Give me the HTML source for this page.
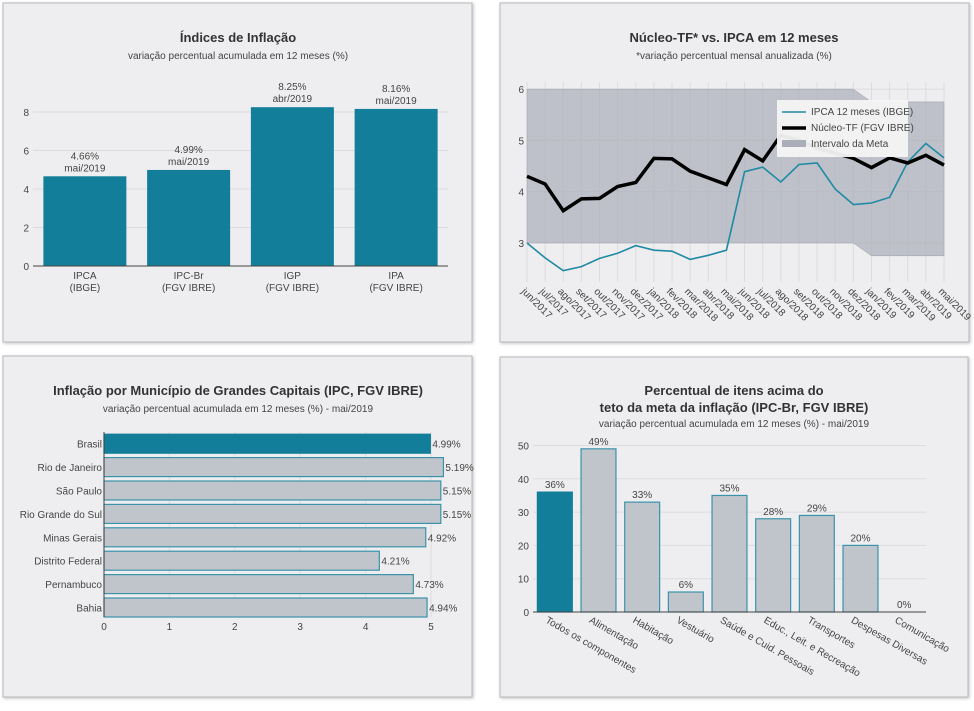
<!DOCTYPE html>
<html><head><meta charset="utf-8"><style>
body{margin:0;background:#fff;width:974px;height:706px;overflow:hidden;font-family:"Liberation Sans",sans-serif}
svg text{font-family:"Liberation Sans",sans-serif;fill:#444}
</style></head><body>
<svg id="s" width="974" height="706" xmlns="http://www.w3.org/2000/svg">
<defs><filter id="sh" x="-5%" y="-5%" width="110%" height="110%"><feDropShadow dx="1" dy="1" stdDeviation="1.5" flood-color="#999" flood-opacity="0.6"/></filter></defs>
<rect x="3" y="3" width="469" height="339" fill="#eeeef0" stroke="#b8b8bc" filter="url(#sh)"/>
<rect x="500" y="3" width="469" height="339" fill="#eeeef0" stroke="#b8b8bc" filter="url(#sh)"/>
<rect x="3" y="356" width="469" height="341" fill="#eeeef0" stroke="#b8b8bc" filter="url(#sh)"/>
<rect x="500" y="357" width="468" height="340" fill="#eeeef0" stroke="#b8b8bc" filter="url(#sh)"/>

<text x="238" y="42" text-anchor="middle" font-size="13" font-weight="bold" style="fill:#333">Índices de Inflação</text>
<text x="238" y="59" text-anchor="middle" font-size="10">variação percentual acumulada em 12 meses (%)</text>
<text x="734" y="42" text-anchor="middle" font-size="13" font-weight="bold" style="fill:#333">Núcleo-TF* vs. IPCA em 12 meses</text>
<text x="734" y="59" text-anchor="middle" font-size="10">*variação percentual mensal anualizada (%)</text>
<text x="238" y="395" text-anchor="middle" font-size="13" font-weight="bold" style="fill:#333">Inflação por Município de Grandes Capitais (IPC, FGV IBRE)</text>
<text x="238" y="412" text-anchor="middle" font-size="10">variação percentual acumulada em 12 meses (%) - mai/2019</text>
<text x="734" y="395" text-anchor="middle" font-size="13" font-weight="bold" style="fill:#333">Percentual de itens acima do</text>
<text x="734" y="412" text-anchor="middle" font-size="13" font-weight="bold" style="fill:#333">teto da meta da inflação (IPC-Br, FGV IBRE)</text>
<text x="734" y="427" text-anchor="middle" font-size="10">variação percentual acumulada em 12 meses (%) - mai/2019</text>
<g id="g1"></g><g id="g2"></g><g id="g3"></g><g id="g4"></g>
</svg>
<script>
// Chart 1
const c1Cats=[["IPCA","(IBGE)"],["IPC-Br","(FGV IBRE)"],["IGP","(FGV IBRE)"],["IPA","(FGV IBRE)"]];
const c1Vals=[4.66,4.99,8.25,8.16];
const c1Dates=["mai/2019","mai/2019","abr/2019","mai/2019"];
const c1Ticks=[0,2,4,6,8];
// Chart 2
const c2Months=["jun/2017","jul/2017","ago/2017","set/2017","out/2017","nov/2017","dez/2017","jan/2018","fev/2018","mar/2018","abr/2018","mai/2018","jun/2018","jul/2018","ago/2018","set/2018","out/2018","nov/2018","dez/2018","jan/2019","fev/2019","mar/2019","abr/2019","mai/2019"];
const c2Ipca=[3.0,2.71,2.46,2.54,2.70,2.80,2.95,2.86,2.84,2.68,2.76,2.86,4.39,4.48,4.19,4.53,4.56,4.05,3.75,3.78,3.89,4.58,4.94,4.66];
const c2Nucleo=[4.3,4.15,3.63,3.86,3.87,4.10,4.18,4.65,4.64,4.40,4.27,4.14,4.82,4.60,5.1,5.0,4.85,4.75,4.65,4.47,4.66,4.56,4.71,4.52];
const c2MetaLow=[3,3,3,3,3,3,3,3,3,3,3,3,3,3,3,3,3,3,3,2.75,2.75,2.75,2.75,2.75];
const c2MetaHigh=[6,6,6,6,6,6,6,6,6,6,6,6,6,6,6,6,6,6,6,5.75,5.75,5.75,5.75,5.75];
const c2Ticks=[3,4,5,6];
// Chart 3
const c3Cats=["Brasil","Rio de Janeiro","São Paulo","Rio Grande do Sul","Minas Gerais","Distrito Federal","Pernambuco","Bahia"];
const c3Vals=[4.99,5.19,5.15,5.15,4.92,4.21,4.73,4.94];
const c3Ticks=[0,1,2,3,4,5];
// Chart 4
const c4Cats=["Todos os componentes","Alimentação","Habitação","Vestuário","Saúde e Cuid. Pessoais","Educ., Leit. e Recreação","Transportes","Despesas Diversas","Comunicação"];
const c4Vals=[36,49,33,6,35,28,29,20,0];
const c4Ticks=[0,10,20,30,40,50];

const NS="http://www.w3.org/2000/svg";
function mk(p,t,a,txt){const e=document.createElementNS(NS,t);for(const k in a)e.setAttribute(k,a[k]);if(txt!==undefined)e.textContent=txt;p.appendChild(e);return e;}
const TEAL="#127e99",GREY="#c0c4cb";

// ---- chart 1
(function(){const g=document.getElementById('g1');
const x0=33,x1=448,y0=266,k=19.25;const y=v=>y0-v*k;const bw=(x1-x0)/c1Cats.length;
c1Ticks.forEach(t=>{if(t>0){const l=mk(g,'line',{x1:x0,x2:x1,y1:y(t),y2:y(t),stroke:'#dcdce0'});}
const tx=mk(g,'text',{x:x0-4,y:y(t)+4,'text-anchor':'end','font-size':10},t);});
c1Vals.forEach((v,i)=>{const cx=x0+bw*(i+.5);
const r=mk(g,'rect',{x:cx-bw*0.4,y:y(v),width:bw*0.8,height:v*k,fill:TEAL});
const a=mk(g,'text',{x:cx,y:y(v)-17,'text-anchor':'middle','font-size':10},v.toFixed(2)+'%');
const b=mk(g,'text',{x:cx,y:y(v)-5,'text-anchor':'middle','font-size':10},c1Dates[i]);
const c=mk(g,'text',{x:cx,y:y0+13,'text-anchor':'middle','font-size':10},c1Cats[i][0]);
const d=mk(g,'text',{x:cx,y:y0+25,'text-anchor':'middle','font-size':10},c1Cats[i][1]);});
const ax=mk(g,'line',{x1:x0,x2:x1,y1:y0,y2:y0,stroke:'#444'});})();

// ---- chart 2
(function(){const g=document.getElementById('g2');
const x0=527,x1=944,n=c2Months.length,dx=(x1-x0)/(n-1);const X=i=>x0+i*dx;const Y=v=>243-(v-3)*51.3;
for(let i=0;i<n;i++){const l=mk(g,'line',{x1:X(i),x2:X(i),y1:82,y2:282,stroke:'#dcdce0'});}
c2Ticks.forEach(t=>{const l=mk(g,'line',{x1:x0,x2:x1,y1:Y(t),y2:Y(t),stroke:'#dcdce0'});
const tx=mk(g,'text',{x:x0-3,y:Y(t)+4,'text-anchor':'end','font-size':10},t);});
let d='';c2MetaHigh.forEach((v,i)=>d+=(i?'L':'M')+X(i)+','+Y(v));for(let i=n-1;i>=0;i--)d+='L'+X(i)+','+Y(c2MetaLow[i]);
const band=mk(g,'path',{d:d+'Z',fill:'#a9aeb8','fill-opacity':0.7,stroke:'#9aa0aa','stroke-width':0.5});
const p1=mk(g,'polyline',{points:c2Ipca.map((v,i)=>X(i)+','+Y(v)).join(' '),fill:'none',stroke:'#1f8aa3','stroke-width':1.6});
const p2=mk(g,'polyline',{points:c2Nucleo.map((v,i)=>X(i)+','+Y(v)).join(' '),fill:'none',stroke:'#000','stroke-width':3.5});
c2Months.forEach((m,i)=>{const tx=X(i)-6,ty=292;const t=mk(g,'text',{x:tx,y:ty,'font-size':10,transform:`rotate(45 ${tx} ${ty})`},m);});
const lg=mk(g,'g',{});
mk(lg,'rect',{x:777,y:100,width:131,height:57,fill:'#f4f4f6','fill-opacity':0.95});
mk(lg,'line',{x1:782,x2:806,y1:112,y2:112,stroke:'#1f8aa3','stroke-width':1.6});
mk(lg,'text',{x:811,y:115,'font-size':10},'IPCA 12 meses (IBGE)');
mk(lg,'line',{x1:782,x2:806,y1:128,y2:128,stroke:'#000','stroke-width':3.5});
mk(lg,'text',{x:811,y:131,'font-size':10},'Núcleo-TF (FGV IBRE)');
mk(lg,'rect',{x:782,y:140,width:24,height:7,fill:'#a9aeb8'});
mk(lg,'text',{x:811,y:147,'font-size':10},'Intervalo da Meta');})();

// ---- chart 3
(function(){const g=document.getElementById('g3');
const x0=104,k=65.4,X=v=>x0+v*k,yTop=432,step=23.4,bh=19;
c3Ticks.forEach(t=>{const l=mk(g,'line',{x1:X(t),x2:X(t),y1:432,y2:617,stroke:'#dcdce0'});
const tx=mk(g,'text',{x:X(t),y:630,'text-anchor':'middle','font-size':10},t);});
c3Vals.forEach((v,i)=>{const cy=yTop+step*(i+.5);
const r=mk(g,'rect',{x:x0,y:cy-bh/2,width:v*k,height:bh,fill:i==0?TEAL:GREY,stroke:i==0?TEAL:'#3b93aa','stroke-width':1.2});
const a=mk(g,'text',{x:X(v)+2,y:cy+4,'font-size':10},v.toFixed(2)+'%');
const c=mk(g,'text',{x:x0-2,y:cy+4,'text-anchor':'end','font-size':10},c3Cats[i]);});
const ax=mk(g,'line',{x1:x0,x2:x0,y1:432,y2:617,stroke:'#444'});})();

// ---- chart 4
(function(){const g=document.getElementById('g4');
const x0=533,x1=926,y0=612,k=3.33,Y=v=>y0-v*k,bw=(x1-x0)/c4Cats.length;
c4Ticks.forEach(t=>{if(t>0){const l=mk(g,'line',{x1:x0,x2:x1,y1:Y(t),y2:Y(t),stroke:'#dcdce0'});}
const tx=mk(g,'text',{x:x0-4,y:Y(t)+4,'text-anchor':'end','font-size':10},t);});
c4Vals.forEach((v,i)=>{const cx=x0+bw*(i+.5);
if(v>0){const r=mk(g,'rect',{x:cx-bw*0.4,y:Y(v),width:bw*0.8,height:v*k,fill:i==0?TEAL:GREY,stroke:i==0?TEAL:'#3b93aa','stroke-width':1.2});}
const a=mk(g,'text',{x:cx,y:Y(v)-4,'text-anchor':'middle','font-size':10},v+'%');
const c=mk(g,'text',{x:cx-10,y:y0+10,'font-size':10,transform:`rotate(30 ${cx-10} ${y0+10})`},c4Cats[i]);});
const ax=mk(g,'line',{x1:x0,x2:x1,y1:y0,y2:y0,stroke:'#444'});})();
</script>
</body></html>
